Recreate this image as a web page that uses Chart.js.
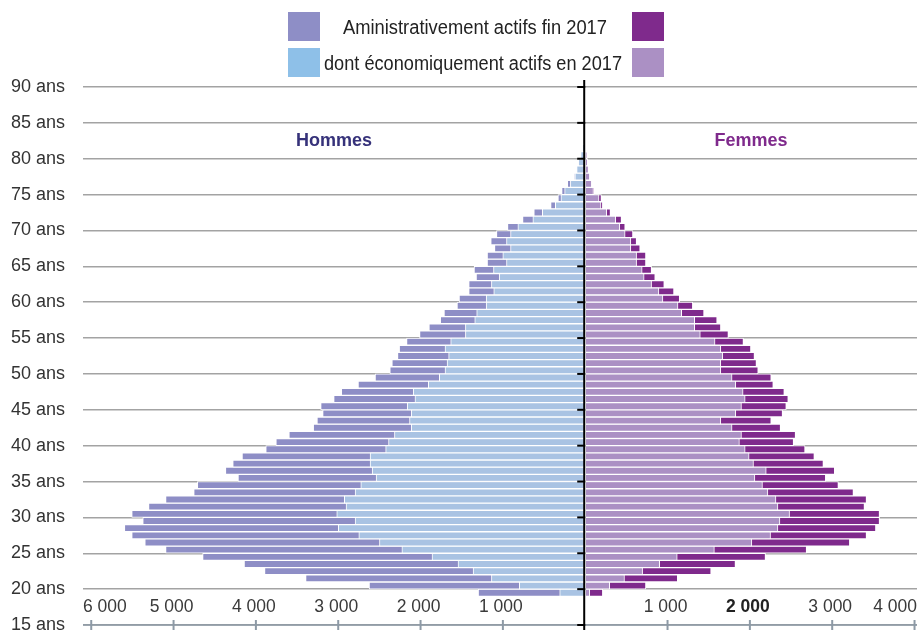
<!DOCTYPE html>
<html>
<head>
<meta charset="utf-8">
<script src="https://cdn.jsdelivr.net/npm/chart.js@4.4.1/dist/chart.umd.min.js"></script>
<style>
  html, body { margin: 0; padding: 0; background: #fff; overflow: hidden; }
  canvas { display: block; }
</style>
</head>
<body>
<canvas id="pyramid" width="917" height="630"></canvas>
<script>
// ages (one bar per year of age)
const ages = [19, 20, 21, 22, 23, 24, 25, 26, 27, 28, 29, 30, 31, 32, 33, 34, 35, 36, 37, 38,
  39, 40, 41, 42, 43, 44, 45, 46, 47, 48, 49, 50, 51, 52, 53, 54, 55, 56, 57, 58,
  59, 60, 61, 62, 63, 64, 65, 66, 67, 68, 69, 70, 71, 72, 73, 74, 75, 76, 77, 78,
  79, 80, 81, 82, 83];

// administratively active at end of 2017
const menTotal = [1300, 2625, 3396, 3895, 4143, 4647, 5097, 5349, 5508, 5597, 5374, 5508, 5304, 5097, 4755, 4711, 4217, 4370, 4281, 4168,
  3880, 3757, 3599, 3303, 3258, 3189, 3213, 3055, 2962, 2759, 2552, 2373, 2348, 2280, 2259, 2170, 2012, 1898, 1760, 1715,
  1557, 1532, 1415, 1415, 1325, 1350, 1191, 1191, 1102, 1147, 1078, 944, 761, 624, 420, 331, 286, 217, 135, 108,
  86, 58, 36, 26, 20];
const womenTotal = [213, 737, 1123, 1529, 1825, 2190, 2689, 3213, 3417, 3530, 3575, 3575, 3392, 3417, 3258, 3075, 2921, 3030, 2893, 2783,
  2670, 2531, 2555, 2373, 2259, 2397, 2442, 2466, 2418, 2284, 2259, 2101, 2080, 2056, 2012, 1922, 1739, 1647, 1602, 1443,
  1306, 1147, 1078, 960, 850, 806, 737, 737, 667, 624, 579, 485, 441, 307, 213, 197, 110, 85, 60, 42,
  32, 22, null, null, null];

// of which economically active in 2017
const menActive = [310, 801, 1139, 1362, 1545, 1861, 2227, 2499, 2750, 2999, 2795, 3018, 2905, 2926, 2795, 2726, 2540, 2588, 2613, 2613,
  2424, 2389, 2317, 2113, 2134, 2113, 2162, 2068, 2089, 1906, 1772, 1703, 1678, 1659, 1703, 1634, 1455, 1455, 1342, 1318,
  1203, 1203, 1111, 1139, 1045, 1114, 956, 1001, 907, 956, 907, 818, 636, 521, 363, 295, 250, 180, 125, 104,
  83, 55, 34, 25, 20];
const womenActive = [55, 298, 477, 697, 904, 1118, 1569, 2024, 2251, 2341, 2365, 2482, 2341, 2317, 2219, 2153, 2061, 2199, 2044, 1991,
  1943, 1873, 1898, 1784, 1647, 1829, 1898, 1943, 1918, 1829, 1784, 1647, 1647, 1671, 1647, 1577, 1398, 1330, 1330, 1172,
  1127, 944, 895, 806, 716, 692, 624, 624, 554, 554, 485, 420, 371, 262, 192, 168, 100, 79, 55, 40,
  30, 20, null, null, null];

const xTickValues = [-6000, -5000, -4000, -3000, -2000, -1000, 1000, 2000, 3000, 4000];
const yTickValues = [15, 20, 25, 30, 35, 40, 45, 50, 55, 60, 65, 70, 75, 80, 85, 90];
const legendLabels = ["Aministrativement actifs fin 2017", "dont économiquement actifs en 2017"];
const sideLabels = ["Hommes", "Femmes"];

const FONT = "'Liberation Sans', Arial, sans-serif";
const colMenTotal = "#8e8ec6";
const colMenActive = "#a9c3e3";
const colMenActiveKey = "#8ec0e8";
const colWomenTotal = "#7f2a8c";
const colWomenActive = "#ab90c4";

function toPoints(values, sign) {
  return ages.map((a, i) => ({ y: a + 0.5, x: values[i] == null ? null : sign * values[i] }));
}

function barSet(label, values, sign, color) {
  return {
    label: label,
    data: toPoints(values, sign),
    backgroundColor: color,
    borderColor: "#ffffff",
    borderWidth: 1,
    borderSkipped: false,
    grouped: false,
    barPercentage: 1,
    categoryPercentage: 1
  };
}

// draws the centre axis, the bottom scale, its labels, the legend and the side titles
const pyramidDecor = {
  id: "pyramidDecor",
  afterDatasetsDraw(chart) {
    const { ctx, chartArea, scales: { x, y } } = chart;
    const x0 = x.getPixelForValue(0);
    const yBase = y.getPixelForValue(15);
    const line = (ax, ay, bx, by) => { ctx.beginPath(); ctx.moveTo(ax, ay); ctx.lineTo(bx, by); ctx.stroke(); };
    ctx.save();

    // bottom scale line and ticks
    ctx.strokeStyle = "#8d9aa6";
    ctx.lineWidth = 1.5;
    line(chartArea.left, yBase, chartArea.right, yBase);
    ctx.lineWidth = 2;
    xTickValues.forEach(v => {
      const px = x.getPixelForValue(v);
      line(px, yBase - 5, px, yBase + 6);
    });

    // vertical zero axis with small ticks every 5 years
    ctx.strokeStyle = "#000";
    ctx.lineWidth = 2;
    line(x0 - 1, y.getPixelForValue(90) - 7, x0 - 1, yBase + 6);
    yTickValues.forEach(v => {
      const py = y.getPixelForValue(v);
      line(x0 - 8, py, x0, py);
    });

    // x tick labels sit just above the bottom line
    ctx.textBaseline = "middle";
    ctx.textAlign = "center";
    xTickValues.forEach(v => {
      const txt = Math.abs(v).toLocaleString("fr-FR").replace(/\s/g, " ");
      ctx.font = (v === 2000 ? "bold " : "") + "17.5px " + FONT;
      ctx.fillStyle = v === 2000 ? "#222" : "#3a3a3a";
      const w = ctx.measureText(txt).width;
      let cx = x.getPixelForValue(v) - 2;
      cx = Math.max(chartArea.left + w / 2, Math.min(chartArea.right - w / 2, cx));
      ctx.fillText(txt, cx, yBase - 18);
    });

    // side titles
    ctx.font = "bold 18px " + FONT;
    ctx.fillStyle = "#36327a";
    ctx.fillText(sideLabels[0], (chartArea.left + x0) / 2, 141);
    ctx.fillStyle = colWomenTotal;
    ctx.fillText(sideLabels[1], (x0 + chartArea.right) / 2, 141);

    // legend (condensed lettering, as in the original)
    const rows = [[colMenTotal, colWomenTotal], [colMenActiveKey, colWomenActive]];
    const textWidths = [264, 298];
    rows.forEach((pair, i) => {
      const top = 12 + i * 36;
      ctx.fillStyle = pair[0];
      ctx.fillRect(288, top, 32, 29);
      ctx.fillStyle = pair[1];
      ctx.fillRect(632, top, 32, 29);
      ctx.fillStyle = "#222";
      ctx.font = "20px " + FONT;
      const sx = textWidths[i] / ctx.measureText(legendLabels[i]).width;
      ctx.save();
      ctx.translate(475 - i * 2, top + 16);
      ctx.scale(sx, 1);
      ctx.fillText(legendLabels[i], 0, 0);
      ctx.restore();
    });
    ctx.restore();
  }
};

new Chart(document.getElementById("pyramid"), {
  type: "bar",
  data: {
    datasets: [
      barSet("Hommes actifs 2017", menActive, -1, colMenActive),
      barSet("Femmes actives 2017", womenActive, 1, colWomenActive),
      barSet("Hommes fin 2017", menTotal, -1, colMenTotal),
      barSet("Femmes fin 2017", womenTotal, 1, colWomenTotal)
    ]
  },
  options: {
    indexAxis: "y",
    responsive: false,
    animation: false,
    layout: { autoPadding: false, padding: { left: 10, right: 0, top: 87, bottom: 5 } },
    plugins: { legend: { display: false }, tooltip: { enabled: false } },
    scales: {
      x: { type: "linear", min: -6100, max: 4030, display: false },
      y: {
        type: "linear",
        min: 15,
        max: 90,
        offset: false,
        // fixed label column, and no extra room for the end labels
        afterFit: s => { s.width = 73; s.paddingTop = 0; s.paddingBottom = 0; },
        afterBuildTicks: s => { s.ticks = yTickValues.map(v => ({ value: v })); },
        border: { display: false },
        grid: { color: "#a3a3a3", lineWidth: 1.5, drawTicks: false, offset: false },
        ticks: {
          padding: 18,
          color: "#333",
          font: { family: FONT, size: 18 },
          callback: v => v + " ans"
        }
      }
    }
  },
  plugins: [pyramidDecor]
});
</script>
</body>
</html>
